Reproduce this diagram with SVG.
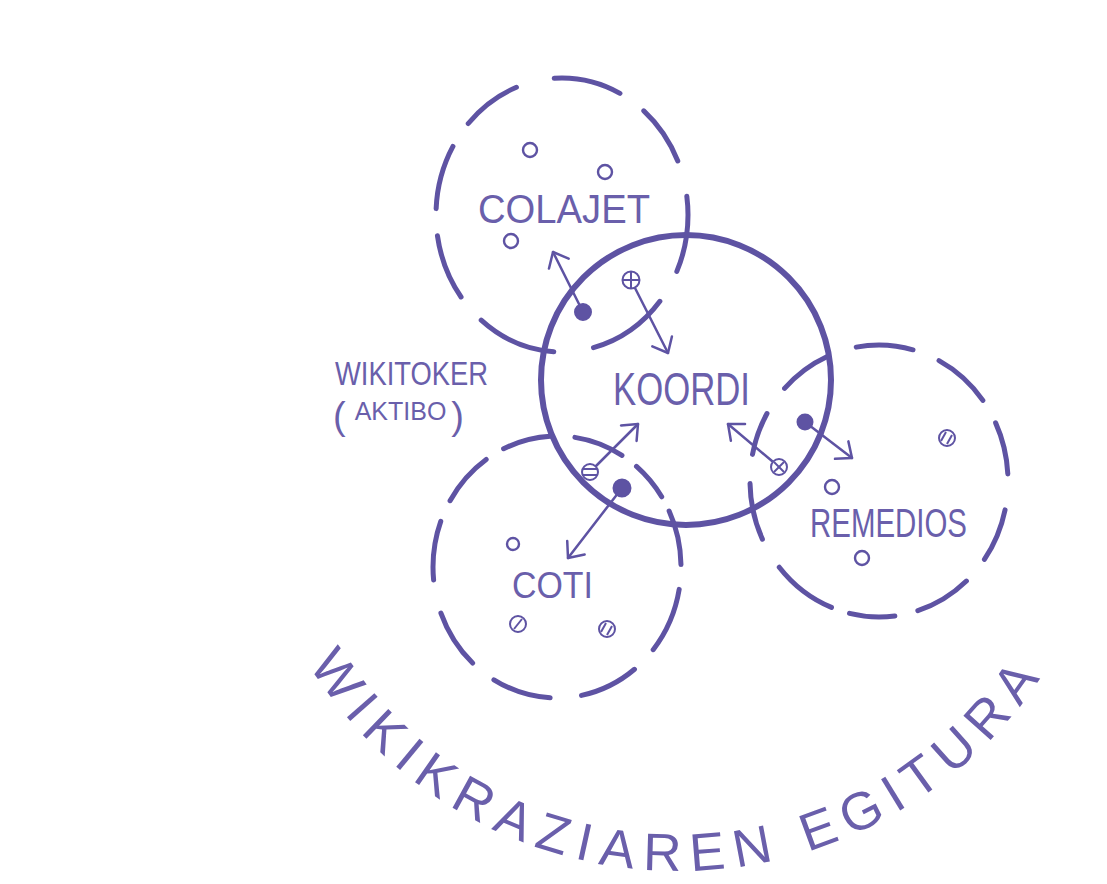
<svg xmlns="http://www.w3.org/2000/svg" width="1107" height="884" viewBox="0 0 1107 884">
<style>
.dash{fill:none;stroke:#5e53a3;stroke-width:5;stroke-linecap:round}
.solid{fill:none;stroke:#5e53a3;stroke-width:6}
.lbl{font-family:"Liberation Sans","DejaVu Sans",sans-serif;fill:#6a5fab}
.dot{fill:none;stroke:#5e53a3;stroke-width:2.4}
.fdot{fill:#5e53a3;stroke:#5e53a3;stroke-width:2}
.sym{fill:none;stroke:#5e53a3;stroke-width:2}
.arrow{fill:none;stroke:#5e53a3;stroke-width:2.5;stroke-linecap:round;marker-end:url(#ah)}
</style>
<defs>
<marker id="ah" viewBox="-15 -13 17 26" refX="0" refY="0" markerWidth="17" markerHeight="26" markerUnits="userSpaceOnUse" orient="auto">
<path d="M-13,-11 L0,0 L-13,11" fill="none" stroke="#5e53a3" stroke-width="2.5" stroke-linecap="round" stroke-linejoin="round"/>
</marker>
<path id="titleArc" d="M 308.9 664.6 A 435 435 0 0 0 1073.2 619.8" fill="none"/>
</defs>
<rect width="1107" height="884" fill="#ffffff"/>

<g id="colajet">
<ellipse class="dash" cx="562" cy="215" rx="126" ry="137" pathLength="360" stroke-dasharray="33.4 15 35.9 17.5 35.1 13.4 28.8 11.9 28.3 12 26.5 17 29.8 12.9 26.6 15.9" stroke-dashoffset="8.2"/>
<circle class="dot" cx="530" cy="150" r="7"/>
<circle class="dot" cx="605" cy="172" r="7"/>
<circle class="dot" cx="511" cy="241" r="7"/>
<text class="lbl" x="478" y="223" font-size="40" textLength="172" lengthAdjust="spacingAndGlyphs">COLAJET</text>
</g>

<g id="coti">
<ellipse class="dash" cx="557" cy="567" rx="124" ry="131" pathLength="360" stroke-dasharray="29.8 12.2 26.8 14.2 26.8 12.2 26.8 15.2 26.8 10.2 24.8 9.2 21.8 11.2 22.8 8.2 17.8 7.2 24.8 11.2" stroke-dashoffset="349.9"/>
<circle class="dot" cx="513" cy="544" r="6"/>
<g class="sym"><circle cx="518" cy="624" r="8"/><line x1="514" y1="629" x2="522" y2="619"/></g>
<g class="sym"><circle cx="607" cy="629" r="8"/><line x1="601" y1="632" x2="606" y2="623"/><line x1="607" y1="635" x2="612" y2="626"/></g>
<text class="lbl" x="512" y="598" font-size="37" textLength="81" lengthAdjust="spacingAndGlyphs">COTI</text>
</g>

<g id="remedios">
<ellipse class="dash" cx="879" cy="481" rx="129" ry="136" pathLength="360" stroke-dasharray="23.3 12.2 24.8 10.2 19.8 8.2 28.8 14.2 24.8 12.7 18.8 13.3 23.2 13.2 24.8 12.2 25.8 11.2 22.8 15.7" stroke-dashoffset="347.4"/>
<circle class="dot" cx="832" cy="487" r="7"/>
<circle class="dot" cx="862" cy="558" r="7"/>
<g class="sym"><circle cx="947" cy="438" r="8"/><line x1="941" y1="441" x2="946" y2="432"/><line x1="947" y1="444" x2="952" y2="435"/></g>
<text class="lbl" x="810" y="537" font-size="41" textLength="157" lengthAdjust="spacingAndGlyphs">REMEDIOS</text>
</g>

<g id="koordi">
<circle class="solid" cx="686" cy="380" r="145"/>
<text class="lbl" x="613" y="405" font-size="46" textLength="137" lengthAdjust="spacingAndGlyphs">KOORDI</text>
</g>

<g id="wikitoker">
<text class="lbl" x="335" y="385" font-size="34" textLength="153" lengthAdjust="spacingAndGlyphs">WIKITOKER</text>
<text class="lbl" x="333" y="429"><tspan font-size="38">(</tspan><tspan font-size="25" dx="9" dy="-9">AKTIBO</tspan><tspan font-size="38" dx="5" dy="9">)</tspan></text>
</g>

<g id="connectors">
<line class="arrow" x1="583" y1="312" x2="553" y2="252"/>
<line class="arrow" x1="635" y1="288" x2="668" y2="353"/>
<line class="arrow" x1="596" y1="466" x2="638" y2="424"/>
<line class="arrow" x1="622" y1="488" x2="568" y2="558"/>
<line class="arrow" x1="805" y1="422" x2="852" y2="458"/>
<line class="arrow" x1="772" y1="461" x2="728" y2="424"/>
<circle class="fdot" cx="583" cy="312" r="8"/>
<circle class="fdot" cx="622" cy="488" r="8.5"/>
<circle class="fdot" cx="805" cy="422" r="7.5"/>
<g class="sym"><circle cx="631" cy="280" r="8.5" fill="#fff"/><line x1="623" y1="280" x2="639" y2="280"/><line x1="631" y1="272" x2="631" y2="288"/></g>
<g class="sym"><circle cx="590" cy="472" r="8" fill="#fff"/><line x1="583" y1="469" x2="597" y2="469"/><line x1="583" y1="475" x2="597" y2="475"/></g>
<g class="sym"><circle cx="779" cy="467" r="8" fill="#fff"/><line x1="774" y1="462" x2="784" y2="472"/><line x1="784" y1="462" x2="774" y2="472"/></g>
</g>

<g id="title">
<text class="lbl" font-size="53" letter-spacing="10"><textPath href="#titleArc">WIKIKRAZIAREN EGITURA</textPath></text>
</g>
</svg>
